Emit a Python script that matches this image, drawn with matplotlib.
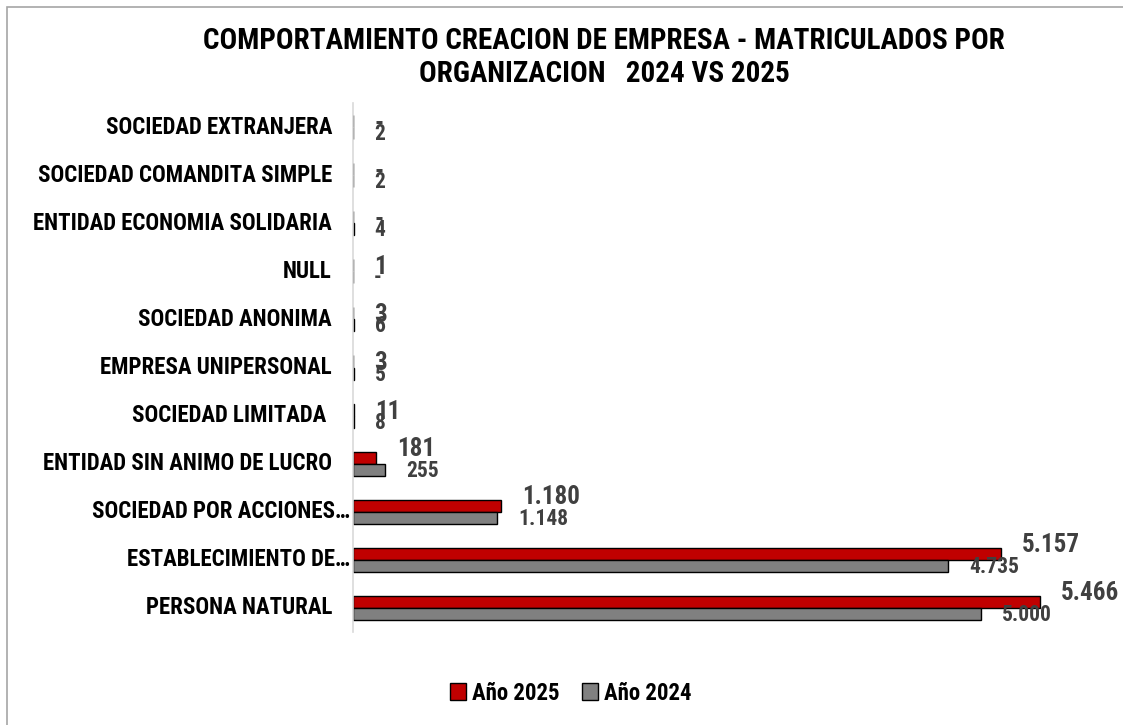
import matplotlib
matplotlib.use("Agg")
import matplotlib.pyplot as plt
from matplotlib.patches import Rectangle
from matplotlib.transforms import ScaledTranslation

plt.rcParams['font.family'] = ['Roboto Condensed', 'Liberation Sans Narrow', 'Liberation Sans', 'DejaVu Sans']

# Data (bottom to top)
categories = ["PERSONA NATURAL", "ESTABLECIMIENTO DE\u2026", "SOCIEDAD POR ACCIONES\u2026",
              "ENTIDAD SIN ANIMO DE LUCRO", "SOCIEDAD LIMITADA ", "EMPRESA UNIPERSONAL",
              "SOCIEDAD ANONIMA", "NULL", "ENTIDAD ECONOMIA SOLIDARIA",
              "SOCIEDAD COMANDITA SIMPLE", "SOCIEDAD EXTRANJERA"]
values_2025 = [5466, 5157, 1180, 181, 11, 3, 3, 1, 0, 0, 0]
values_2024 = [5000, 4735, 1148, 255, 8, 5, 6, 0, 4, 2, 2]
truncated = [False, True, True, False, False, False, False, False, False, False, False]
title = "COMPORTAMIENTO CREACION DE EMPRESA - MATRICULADOS POR\nORGANIZACION   2024 VS 2025"

W, H = 1123, 725
fig = plt.figure(figsize=(W / 100, H / 100), dpi=100)
fig.patch.set_facecolor("white")

# outer border
fig.patches.append(Rectangle((7 / W, -0.01), 1.0, 1 - 7 / H + 0.01, transform=fig.transFigure,
                             fill=False, edgecolor="#a6a6a6", linewidth=1.2))

ax = fig.add_axes([353 / W, (H - 632) / H, (1107 - 353) / W, 529 / H])
ax.set_xlim(0, 6000)
ax.set_ylim(-0.5, len(categories) - 0.5)

y = list(range(len(categories)))
bh = 0.25
red, gray = "#C00000", "#808080"
b25 = ax.barh([v + bh / 2 for v in y], values_2025, height=bh, color=red,
              edgecolor="black", linewidth=1.0, label="Año 2025")
b24 = ax.barh([v - bh / 2 for v in y], values_2024, height=bh, color=gray,
              edgecolor="black", linewidth=1.0, label="Año 2024")

def fmt(v):
    if v == 0:
        return "-"
    return f"{v:,}".replace(",", ".")

for yi, v in zip(y, values_2025):
    dy = 9 if v >= 100 else -2
    ax.annotate(fmt(v), (v, yi + bh / 2), xytext=(21, dy), textcoords="offset pixels",
                ha="left", va="center", fontsize=18, fontweight="bold", color="#404040")
for yi, v in zip(y, values_2024):
    ax.annotate(fmt(v), (v, yi - bh / 2), xytext=(21, -1), textcoords="offset pixels",
                ha="left", va="center", fontsize=15.5, fontweight="bold", color="#404040")

# axes styling
for s in ["top", "right", "bottom"]:
    ax.spines[s].set_visible(False)
ax.spines["left"].set_color("#d9d9d9")
ax.spines["left"].set_linewidth(1.2)
ax.set_xticks([])
ax.set_yticks(y)
ax.set_yticklabels([])
ax.tick_params(axis="y", length=0)

trans = ax.get_yaxis_transform()
for yi, lab, tr in zip(y, categories, truncated):
    off = ScaledTranslation((-3 if tr else -21) / 100, 0, fig.dpi_scale_trans)
    ax.text(0, yi, lab, transform=trans + off, ha="right", va="center",
            fontsize=16.5, fontweight="bold", color="black")

fig.text(604 / W, 1 - 57.5 / H, title, ha="center", va="center", fontsize=21,
         fontweight="bold", color="black", linespacing=1.2)

leg = fig.legend(handles=[b25, b24], loc="center", bbox_to_anchor=(571 / W, 1 - 693 / H),
                 ncol=2, frameon=False, prop={"weight": "bold", "size": 16.5},
                 handlelength=0.7, handleheight=0.7, handletextpad=0.25, columnspacing=1.0)

fig.savefig("out.png", dpi=100)
